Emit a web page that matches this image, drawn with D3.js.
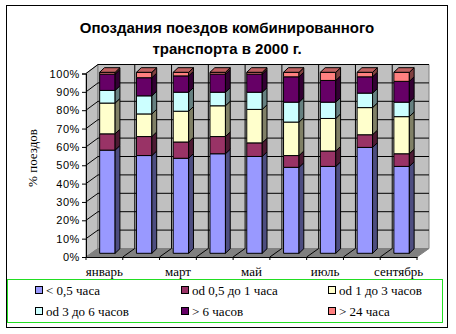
<!DOCTYPE html>
<html>
<head>
<meta charset="utf-8">
<script src="https://cdn.jsdelivr.net/npm/d3@7"></script>
<style>
  html, body { margin: 0; padding: 0; background: #fff; }
  svg { display: block; }
</style>
</head>
<body>
<svg id="chart" width="456" height="334"></svg>
<script>
// Months and share of trains (%) in each delay class
const months = ["январь", "февраль", "март", "апрель", "май", "июнь", "июль", "август", "сентябрь"];
const monthLabels = ["январь", "", "март", "", "май", "", "июль", "", "сентябрь"];
const seriesNames = ["< 0,5 часа", "od 0,5 до 1 часа", "od 1 до 3 часов", "od 3 до 6 часов", "> 6 часов", "> 24 часа"];
const under05   = [57, 54, 52.5, 55, 53.5, 47.5, 48, 58.5, 48];
const from05to1 = [9, 10.5, 9, 9.5, 7.5, 6.5, 8.5, 7, 7];
const from1to3  = [17, 12.5, 17, 17, 18.5, 18.5, 18, 15, 20.5];
const from3to6  = [7, 10, 10.5, 7.5, 9.5, 11, 9, 8, 8];
const over6     = [9, 10, 9, 10, 10, 14, 12, 9, 11.5];
const over24    = [1, 3, 2, 1, 1, 2.5, 4.5, 2.5, 5];
const yTicks = [0, 10, 20, 30, 40, 50, 60, 70, 80, 90, 100];
const colors = ["#9999FF", "#993366", "#FFFFCC", "#CCFFFF", "#660066", "#FF8080"];

const seriesValues = [under05, from05to1, from1to3, from3to6, over6, over24];
const table = months.map((m, i) => {
  const row = { month: m };
  seriesNames.forEach((s, k) => row[s] = seriesValues[k][i]);
  return row;
});
const stacked = d3.stack().keys(seriesNames)(table);

const svg = d3.select("#chart");

// Chart area frame
svg.append("rect").attr("x", 6.5).attr("y", 5.5).attr("width", 441).attr("height", 322)
  .attr("fill", "#fff").attr("stroke", "#000").attr("stroke-width", 1);

// Title
const title = svg.append("text").attr("text-anchor", "middle")
  .attr("font-family", "Liberation Sans, Arial, sans-serif").attr("font-weight", "bold")
  .attr("font-size", 15).attr("fill", "#000");
title.append("tspan").attr("x", 227).attr("y", 33).text("Опоздания поездов комбинированного");
title.append("tspan").attr("x", 227).attr("y", 54).text("транспорта в 2000 г.");

// 3-D geometry: front plane, back wall, depth shift
const frontX0 = 86, frontX1 = 417;
const depth = [12, -9];
const yFront = d3.scaleLinear().domain([0, 100]).range([257, 73.5]);
const yBack = d3.scaleLinear().domain([0, 100]).range([248.5, 64.5]);
const yBar = d3.scaleLinear().domain([0, 100]).range([253.3, 72.3]);
const xFront = d3.scaleBand().domain(months).range([frontX0, frontX1]);
const xBack = d3.scaleBand().domain(months).range([frontX0 + depth[0], frontX1 + depth[0]]);
const xBar = d3.scaleBand().domain(months).range([89, 420]).paddingInner(0.58).paddingOuter(0.29);
const barDepth = [4.8, -4.6];

const poly = pts => "M" + pts.map(p => p.join(",")).join("L") + "Z";

// Left side wall
svg.append("path")
  .attr("d", poly([[frontX0, yFront(0)], [frontX0, yFront(100)], [frontX0 + depth[0], yBack(100)], [frontX0 + depth[0], yBack(0)]]))
  .attr("fill", "#C0C0C0").attr("stroke", "#808080");
// Back wall
svg.append("path")
  .attr("d", poly([[frontX0 + depth[0], yBack(0)], [frontX0 + depth[0], yBack(100)], [frontX1 + depth[0], yBack(100)], [frontX1 + depth[0], yBack(0)]]))
  .attr("fill", "#C0C0C0").attr("stroke", "#808080");
// Floor
svg.append("path")
  .attr("d", poly([[frontX0, yFront(0)], [frontX1, yFront(0)], [frontX1 + depth[0], yBack(0)], [frontX0 + depth[0], yBack(0)]]))
  .attr("fill", "#808080").attr("stroke", "#808080");

// Gridlines on walls
const grid = svg.append("g").attr("stroke", "#000").attr("stroke-width", 1).attr("fill", "none");
yTicks.filter(t => t > 0).forEach(t => {
  grid.append("path").attr("d", poly([[frontX0, yFront(t)], [frontX0 + depth[0], yBack(t)], [frontX1 + depth[0], yBack(t)]]).replace("Z", ""));
});
months.slice(1).forEach(m => {
  const xb = xBack(m);
  grid.append("line").attr("x1", xb).attr("x2", xb).attr("y1", yBack(0)).attr("y2", yBack(100));
  const xf = xFront(m);
  grid.append("line").attr("x1", xf).attr("y1", yFront(0)).attr("x2", xb).attr("y2", yBack(0));
});

// Bars
const shade = (c, k) => { const r = d3.rgb(c); return d3.rgb(r.r * k, r.g * k, r.b * k).formatHex(); };
const bars = svg.append("g").attr("stroke", "#000").attr("stroke-width", 1).attr("stroke-linejoin", "miter");
months.forEach((m, i) => {
  const x0 = xBar(m), x1 = x0 + xBar.bandwidth();
  stacked.forEach((layer, k) => {
    const [v0, v1] = layer[i];
    if (v1 - v0 <= 0) return;
    const yb = yBar(v0), yt = yBar(v1);
    bars.append("path").attr("d", poly([[x0, yb], [x1, yb], [x1, yt], [x0, yt]])).attr("fill", colors[k]);
    bars.append("path").attr("d", poly([[x1, yb], [x1 + barDepth[0], yb + barDepth[1]], [x1 + barDepth[0], yt + barDepth[1]], [x1, yt]]))
      .attr("fill", shade(colors[k], 0.5));
    if (k === stacked.length - 1) {
      bars.append("path").attr("d", poly([[x0, yt], [x1, yt], [x1 + barDepth[0], yt + barDepth[1]], [x0 + barDepth[0], yt + barDepth[1]]]))
        .attr("fill", shade(colors[k], 0.75));
    }
  });
});

// Value axis
const yAxis = d3.axisLeft(yFront).tickValues(yTicks).tickSize(4).tickPadding(2).tickFormat(d => d + "%");
svg.append("g").attr("transform", `translate(${frontX0},0)`).call(yAxis)
  .call(g => g.select(".domain").attr("stroke", "#000"))
  .call(g => g.selectAll("line").attr("stroke", "#000"))
  .call(g => g.selectAll("text").attr("font-family", "Liberation Sans, Arial, sans-serif").attr("font-size", 11).attr("fill", "#000").attr("letter-spacing", 0.6));

// Category axis
const xAxis = d3.axisBottom(xFront).tickSize(0).tickPadding(10).tickFormat((d, i) => monthLabels[i]);
svg.append("g").attr("transform", `translate(0,${yFront(0)})`).call(xAxis)
  .call(g => g.select(".domain").attr("stroke", "#000"))
  .call(g => g.selectAll("text").attr("font-family", "Liberation Serif, Times New Roman, serif").attr("font-size", 13).attr("fill", "#000"));
// Category tick marks at band edges
const xt = svg.append("g").attr("stroke", "#000");
months.concat(["end"]).forEach((m, i) => {
  const x = i < months.length ? xFront(m) : frontX1;
  xt.append("line").attr("x1", x).attr("x2", x).attr("y1", yFront(0)).attr("y2", yFront(0) + 3);
});

// Value axis title
svg.append("text").attr("transform", "translate(37,158) rotate(-90)").attr("text-anchor", "middle")
  .attr("font-family", "Liberation Serif, Times New Roman, serif").attr("font-size", 13).attr("fill", "#000")
  .text("% поездов");

// Legend
const legend = svg.append("g");
legend.append("rect").attr("x", 7.5).attr("y", 279.5).attr("width", 435).attr("height", 43)
  .attr("fill", "none").attr("stroke", "#22DD22").attr("stroke-width", 1);
const colX = [35, 181, 328], rowY = [290, 311];
seriesNames.forEach((s, k) => {
  const cx = colX[k % 3], cy = rowY[Math.floor(k / 3)];
  legend.append("rect").attr("x", cx + 0.5).attr("y", cy - 3.5).attr("width", 7).attr("height", 7)
    .attr("fill", colors[k]).attr("stroke", "#000");
  legend.append("text").attr("x", cx + 11).attr("y", cy + 4.5)
    .attr("font-family", "Liberation Serif, Times New Roman, serif").attr("font-size", 13).attr("fill", "#000")
    .text(s);
});
</script>
</body>
</html>
